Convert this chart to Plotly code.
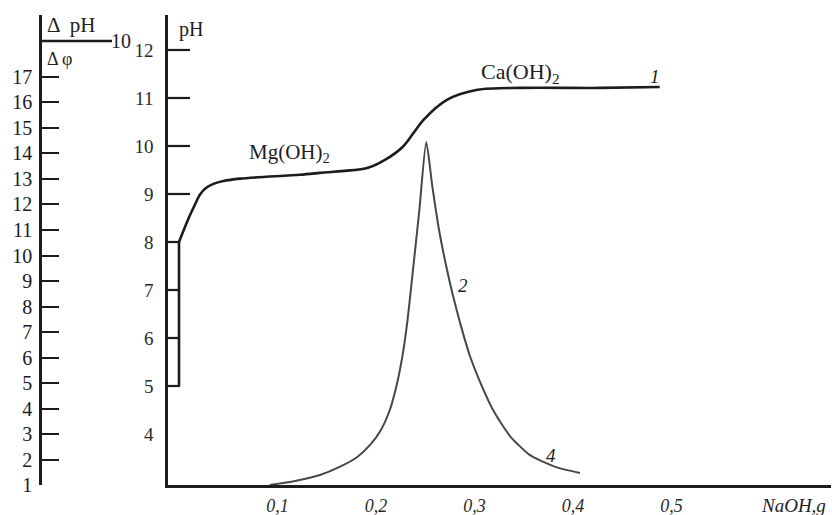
import plotly.graph_objects as go

# Titration of brine with NaOH: pH curve (1) and differential curve dpH/dphi (2)
naoh_ph = [0.0, 0.0, 0.009, 0.016, 0.021, 0.027, 0.035, 0.045, 0.062, 0.123, 0.143,
           0.191, 0.209, 0.227, 0.238, 0.248, 0.272, 0.303, 0.346, 0.427, 0.488]
ph_values = [5.0, 8.0, 8.46, 8.77, 8.98, 9.12, 9.21, 9.27, 9.32, 9.40, 9.44,
             9.54, 9.71, 9.98, 10.27, 10.54, 10.96, 11.17, 11.21, 11.21, 11.23]

naoh_diff = [0.092, 0.118, 0.143, 0.163, 0.181, 0.194, 0.205, 0.214, 0.221, 0.227,
             0.232, 0.237, 0.244, 0.251, 0.257, 0.264, 0.271, 0.278, 0.286, 0.295,
             0.307, 0.320, 0.336, 0.356, 0.382, 0.407]
dph_dphi = [1.00, 1.16, 1.39, 1.71, 2.10, 2.57, 3.16, 3.94, 4.92, 6.10,
            7.47, 9.24, 11.78, 14.45, 12.76, 11.00, 9.63, 8.45, 7.27, 6.10,
            4.92, 3.86, 2.92, 2.18, 1.71, 1.47]

x_ticks = [0.1, 0.2, 0.3, 0.4, 0.5]
x_tick_text = ["0,1", "0,2", "0,3", "0,4", "0,5"]
ph_ticks = [4, 5, 6, 7, 8, 9, 10, 11, 12]
ph_long_ticks = [9, 10, 11, 12]
ph_short_ticks = [5, 6, 7, 8]
diff_ticks = list(range(1, 18))

W, H = 832, 515
INK = "#1c1c1c"
SERIF = "Liberation Serif, Times New Roman, serif"


def fx(p):
    return p / W


def fy(p):
    return 1 - p / H


fig = go.Figure()

# curve 1: the vertical start at zero alkali, then the smooth titration curve
fig.add_trace(go.Scatter(
    x=naoh_ph[:2], y=ph_values[:2], mode="lines", yaxis="y",
    line=dict(color=INK, width=2.6), showlegend=False, hoverinfo="skip"))
fig.add_trace(go.Scatter(
    x=naoh_ph[1:], y=ph_values[1:], mode="lines", yaxis="y",
    line=dict(color=INK, width=2.6, shape="spline", smoothing=0.8),
    showlegend=False, hoverinfo="skip"))

# curve 2: differential curve on the outer axis
fig.add_trace(go.Scatter(
    x=naoh_diff, y=dph_dphi, mode="lines", yaxis="y2",
    line=dict(color="#474747", width=2.0, shape="spline", smoothing=0.6),
    showlegend=False, hoverinfo="skip"))

ph_range = [2.9375, 12.729]
y_dom = [fy(485), fy(15)]

fig.update_layout(
    width=W, height=H,
    margin=dict(l=0, r=0, t=0, b=0),
    paper_bgcolor="white", plot_bgcolor="white",
    font=dict(family=SERIF, color=INK),
    xaxis=dict(
        domain=[fx(168), fx(831)], range=[-0.01117, 0.6619],
        showgrid=False, zeroline=False, showline=True, linecolor=INK, linewidth=2.6,
        ticks="", tickvals=x_ticks, ticktext=x_tick_text,
        tickfont=dict(size=18, family=SERIF, style="italic", color="#2a2a2a"),
        ticklabelstandoff=3, automargin=False),
    yaxis=dict(
        domain=y_dom, range=ph_range, anchor="x", side="left",
        showgrid=False, zeroline=False, showline=True, linecolor=INK, linewidth=2.6,
        ticks="", tickvals=ph_ticks, tickfont=dict(size=19, family=SERIF, color="#2a2a2a"),
        ticklabelstandoff=8, automargin=False),
    yaxis2=dict(
        domain=y_dom, range=[1, 19.431], anchor="free", overlaying="y",
        position=fx(40), side="left",
        showgrid=False, zeroline=False, showline=True, linecolor=INK, linewidth=2.6,
        ticks="inside", tickvals=diff_ticks, ticklen=17, tickwidth=2.2, tickcolor=INK,
        tickfont=dict(size=20, family=SERIF, color="#1a1a1a"),
        ticklabelstandoff=3, automargin=False),
)

# pH ticks point into the plot: long ones above pH 8, short ones closing the start box
for v in ph_long_ticks:
    fig.add_shape(type="line", xref="paper", yref="y", x0=fx(168), x1=fx(190),
                  y0=v, y1=v, line=dict(color=INK, width=2.2))
for v in ph_short_ticks:
    fig.add_shape(type="line", xref="paper", yref="y", x0=fx(168), x1=fx(180),
                  y0=v, y1=v, line=dict(color=INK, width=2.2))

# ΔpH/Δφ fraction heading of the outer axis
fig.add_shape(type="line", xref="paper", yref="paper",
              x0=fx(40), x1=fx(112), y0=fy(41), y1=fy(41),
              line=dict(color=INK, width=2.4))

annotations = [
    dict(text="Δ  pH", x=fx(45), y=fy(25), xanchor="left", size=21),
    dict(text="Δ φ", x=fx(45), y=fy(59), xanchor="left", size=18),
    dict(text="10", x=fx(109), y=fy(41), xanchor="left", size=20),
    dict(text="pH", x=fx(177), y=fy(30), xanchor="left", size=20),
    dict(text="Mg(OH)<sub>2</sub>", x=fx(289), y=fy(153), xanchor="center", size=21),
    dict(text="Ca(OH)<sub>2</sub>", x=fx(520), y=fy(73), xanchor="center", size=22),
    dict(text="<i>1</i>", x=fx(655), y=fy(76), xanchor="center", size=19),
    dict(text="<i>2</i>", x=fx(463), y=fy(285), xanchor="center", size=19),
    dict(text="<i>4</i>", x=fx(551), y=fy(455), xanchor="center", size=19),
    dict(text="<i>NaOH,g</i>", x=fx(793), y=fy(505), xanchor="center", size=19),
]
for a in annotations:
    fig.add_annotation(
        text=a["text"], x=a["x"], y=a["y"], xref="paper", yref="paper",
        xanchor=a["xanchor"], yanchor="middle", showarrow=False,
        font=dict(size=a["size"], family=SERIF, color="#1e1e1e"))

fig.write_html("out.html")
